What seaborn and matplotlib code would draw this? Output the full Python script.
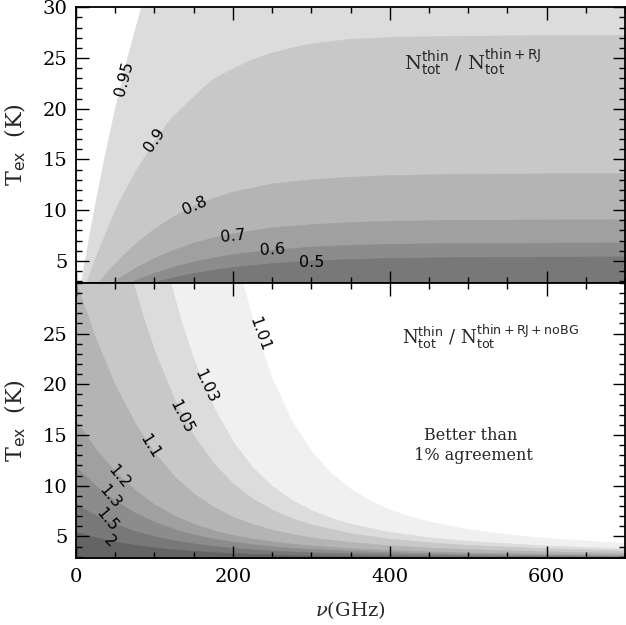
import matplotlib
matplotlib.use("Agg")
import matplotlib.pyplot as plt
from matplotlib.ticker import MultipleLocator
import seaborn as sns

# ---------------- data ----------------
# Top panel: N_thin / N_thin+RJ, boundaries of the filled contour bands
T_095 = [2.85, 5.0, 10.0, 15.0, 20.0, 25.0, 30.0]
nu_095 = [6.2, 10.9, 22.7, 35.4, 49.4, 65.1, 82.6]

nu_090 = [12.6, 20, 30, 40, 55, 75, 101, 120, 158, 175, 200, 225, 250, 275, 300, 350, 413, 500, 700]
T_090 = [2.85, 4.4, 6.37, 8.25, 10.9, 13.8, 16.95, 19.0, 21.85, 22.97, 24.0, 24.9, 25.55, 26.05,
         26.45, 26.9, 27.1, 27.2, 27.3]

nu_080 = [27.7, 40, 60, 80, 100, 125, 150, 175, 200, 250, 300, 350, 400, 500, 700]
T_080 = [2.85, 3.98, 5.6, 7.0, 8.22, 9.45, 10.45, 11.24, 11.83, 12.65, 13.05, 13.3, 13.45, 13.6, 13.65]

nu_070 = [45.5, 60, 80, 100, 125, 150, 175, 200, 250, 300, 350, 400, 500, 700]
T_070 = [2.85, 3.6, 4.52, 5.31, 6.13, 6.8, 7.32, 7.73, 8.32, 8.62, 8.83, 8.95, 9.06, 9.1]

nu_060 = [67.6, 80, 100, 125, 150, 175, 200, 250, 300, 350, 400, 500, 700]
T_060 = [2.85, 3.255, 3.83, 4.45, 4.945, 5.34, 5.67, 6.11, 6.41, 6.57, 6.68, 6.78, 6.82]

nu_050 = [96, 120, 150, 175, 200, 250, 300, 350, 400, 500, 700]
T_050 = [2.85, 3.325, 3.81, 4.13, 4.4, 4.79, 5.04, 5.19, 5.29, 5.39, 5.45]

top_levels = ["0.95", "0.9", "0.8", "0.7", "0.6", "0.5"]
top_label_nu = [61.6, 100.8, 150.9, 200.7, 250.9, 301.0]
top_label_T = [23.0, 16.9, 10.43, 7.45, 6.13, 4.8]
top_label_rot = [75, 55, 24, 6, 3, 0]

# Bottom panel: N_thin / N_thin+RJ+noBG
nu_101 = [212.4, 230, 250, 275, 300, 325, 350, 375, 400, 425, 450, 500, 550, 600, 700]
T_101 = [30.0, 25.01, 20.55, 16.40, 13.42, 11.27, 9.70, 8.55, 7.67, 7.00, 6.48, 5.73, 5.22, 4.85, 4.37]

nu_103 = [120.3, 135, 150, 175, 200, 225, 250, 275, 300, 325, 350, 400, 450, 500, 600, 700]
T_103 = [30.0, 25.96, 22.46, 17.81, 14.36, 11.82, 9.97, 8.61, 7.60, 6.84, 6.26, 5.45, 4.92, 4.56, 4.11, 3.83]

nu_105 = [72.7, 85, 100, 125, 150, 175, 200, 225, 250, 275, 300, 350, 400, 450, 500, 600, 700]
T_105 = [30.0, 26.77, 23.31, 18.58, 14.96, 12.25, 10.23, 8.74, 7.64, 6.81, 6.19, 5.33, 4.79, 4.43,
         4.17, 3.84, 3.63]

nu_low = [0, 25, 50, 75, 100, 125, 150, 175, 200, 225, 250, 275, 300, 350, 400, 450, 500, 600, 700]
T_110 = [30.03, 24.51, 19.91, 16.19, 13.25, 10.97, 9.24, 7.94, 6.96, 6.23, 5.68, 5.25, 4.92, 4.45,
         4.13, 3.92, 3.75, 3.53, 3.39]
T_120 = [16.38, 13.63, 11.38, 9.57, 8.16, 7.08, 6.25, 5.63, 5.15, 4.80, 4.51, 4.29, 4.11, 3.84,
         3.66, 3.53, 3.43, 3.29, 3.20]
T_130 = [11.83, 10.01, 8.53, 7.35, 6.44, 5.73, 5.20, 4.79, 4.48, 4.24, 4.04, 3.89, 3.77, 3.58,
         3.45, 3.35, 3.28, 3.17, 3.10]
T_150 = [8.19, 7.10, 6.23, 5.55, 5.02, 4.62, 4.31, 4.07, 3.88, 3.73, 3.61, 3.52, 3.44, 3.32,
         3.23, 3.17, 3.12, 3.05, 3.00]
T_200 = [5.46, 4.92, 4.50, 4.17, 3.92, 3.73, 3.58, 3.46, 3.37, 3.29, 3.23, 3.18, 3.14, 3.08,
         3.03, 2.99, 2.96, 2.92, 2.89]

bot_levels = ["1.01", "1.03", "1.05", "1.1", "1.2", "1.3", "1.5", "2"]
bot_label_nu = [234.7, 165.8, 134.8, 94.4, 55.3, 43.4, 39.1, 43.4]
bot_label_T = [24.9, 19.8, 16.8, 13.9, 10.9, 8.87, 6.6, 4.5]
bot_label_rot = [-70, -65, -63, -58, -50, -50, -50, -45]

xticks = [0, 200, 400, 600]
yticks_top = [5, 10, 15, 20, 25, 30]
yticks_bot = [5, 10, 15, 20, 25]

# ---------------- styling ----------------
XMIN, XMAX = 0, 700
YMIN, YMAX = 2.85, 30
top_colors = ["#dcdcdc", "#c8c8c8", "#b4b4b4", "#a0a0a0", "#8c8c8c", "#787878"]
bot_colors = ["#f0f0f0", "#dcdcdc", "#c8c8c8", "#b4b4b4", "#a0a0a0", "#8c8c8c", "#787878", "#646464"]

sns.set_theme(style="ticks")
plt.rcParams["font.family"] = ["DejaVu Serif"]
plt.rcParams["mathtext.fontset"] = "dejavuserif"

W, H = 626, 625
fig = plt.figure(figsize=(W / 100, H / 100), dpi=100)
fig.patch.set_facecolor("white")
ax1 = fig.add_axes([76 / W, 1 - 282.7 / H, 549 / W, 275.4 / H])
ax2 = fig.add_axes([76 / W, 1 - 558.3 / H, 549 / W, 275.4 / H])

# ---- top panel ----
ax1.set_facecolor("white")
kw = dict(linewidth=0.4)
ax1.fill_betweenx(T_095, nu_095, XMAX, color=top_colors[0], **kw)
for (nu, T), col in zip([(nu_090, T_090), (nu_080, T_080), (nu_070, T_070),
                         (nu_060, T_060), (nu_050, T_050)], top_colors[1:]):
    ax1.fill_between(nu, YMIN, T, color=col, **kw)

for lab, x, y, r in zip(top_levels, top_label_nu, top_label_T, top_label_rot):
    ax1.text(x, y, lab, rotation=r, rotation_mode="anchor", ha="center", va="center",
             fontsize=11.5, family="DejaVu Sans", color="black")

ax1.text(506, 24.6, r"$\mathrm{N}^{\mathsf{thin}}_{\mathsf{tot}}$ / $\mathrm{N}^{\mathsf{thin+RJ}}_{\mathsf{tot}}$",
         ha="center", va="center", fontsize=14)

# ---- bottom panel ----
ax2.set_facecolor("white")
for (nu, T), col in zip([(nu_101, T_101), (nu_103, T_103), (nu_105, T_105)], bot_colors[:3]):
    ax2.axvspan(XMIN, nu[0], color=col, **kw)
    ax2.fill_between(nu, YMIN, T, color=col, **kw)
for T, col in zip([T_110, T_120, T_130, T_150, T_200], bot_colors[3:]):
    ax2.fill_between(nu_low, YMIN, T, color=col, **kw)

for lab, x, y, r in zip(bot_levels, bot_label_nu, bot_label_T, bot_label_rot):
    ax2.text(x, y, lab, rotation=r, rotation_mode="anchor", ha="center", va="center",
             fontsize=11.5, family="DejaVu Sans", color="black")

ax2.text(528, 24.7,
         r"$\mathrm{N}^{\mathsf{thin}}_{\mathsf{tot}}$ / $\mathrm{N}^{\mathsf{thin+RJ+noBG}}_{\mathsf{tot}}$",
         ha="center", va="center", fontsize=13)
ax2.text(503, 14.0, "Better than\n 1% agreement", ha="center", va="center",
         fontsize=11.5, linespacing=1.25)

# ---- axes ----
for ax in (ax1, ax2):
    ax.set_xlim(XMIN, XMAX)
    ax.set_ylim(YMIN, YMAX)
    ax.xaxis.set_minor_locator(MultipleLocator(50))
    ax.yaxis.set_minor_locator(MultipleLocator(1))
    ax.set_xticks(xticks)
    ax.tick_params(which="both", direction="in", top=True, right=True, bottom=True, left=True,
                   colors="black", width=1.0, labelsize=14)
    ax.tick_params(which="major", length=9)
    ax.tick_params(which="minor", length=4.5)
    ax.tick_params(axis="x", pad=7)
    ax.tick_params(axis="y", pad=6)
    for s in ax.spines.values():
        s.set_linewidth(1.3)
        s.set_color("black")
        s.set_zorder(5)
    ax.set_axisbelow(False)
    ax.set_ylabel(r"$\mathrm{T}_{\mathsf{ex}}$  (K)", fontsize=16)
    ax.yaxis.set_label_coords(-0.087, 0.5)

ax1.set_yticks(yticks_top)
ax2.set_yticks(yticks_bot)
ax1.tick_params(axis="x", labelbottom=False)
ax2.set_xlabel(r"$\nu$(GHz)", fontsize=14)
ax2.xaxis.set_label_coords(0.5, -0.15)

fig.savefig("out.png", dpi=100, facecolor="white")
